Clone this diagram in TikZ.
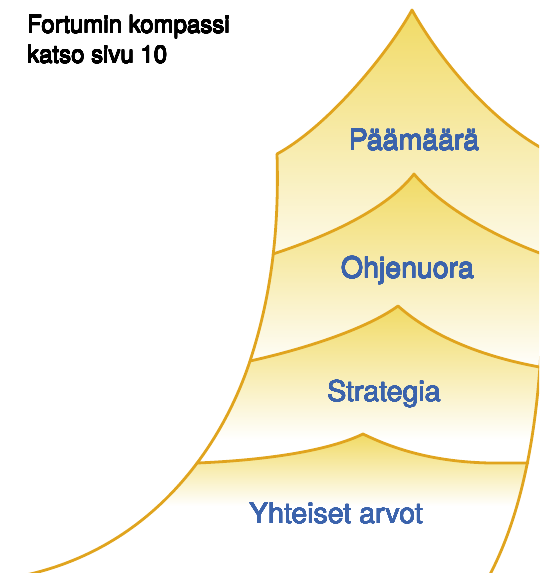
\documentclass[tikz,border=0pt]{standalone}
\usepackage{fontspec}
\setmainfont{TeX Gyre Heros}
\usepackage{contour}
\contourlength{0.2pt}
\contournumber{24}
\usetikzlibrary{positioning}
\definecolor{roofgold}{RGB}{236,206,48}
\definecolor{roofline}{RGB}{224,164,30}
\definecolor{tierblue}{RGB}{59,99,172}
\newcommand\leftrim{(277,154) .. controls (280,250) and (265,315) .. (250,361)
    .. controls (225,437) and (160,545) .. (26,575)}
\newcommand\rightrim{(541,350) .. controls (536,440) and (520,520) .. (487,580)}
\newcommand\roofA{(277,154) .. controls (330,125) and (390,50) .. (412,10)
    .. controls (440,60) and (490,120) .. (545,150)}
\newcommand\roofB{(273,254) .. controls (340,232) and (390,205) .. (414,174)
    .. controls (440,205) and (490,235) .. (545,255)}
\newcommand\roofC{(250,361) .. controls (300,350) and (365,330) .. (398,306)
    .. controls (425,330) and (470,355) .. (545,368)}
\newcommand\roofD{(197,463) .. controls (270,460) and (330,450) .. (363,434)
    .. controls (400,452) and (440,462) .. (490,463) -- (528,463)}
\newcommand\bodyclip{\clip \leftrim -- (20,590) -- (487,590) -- (487,580)
    .. controls (520,520) and (536,440) .. (541,350) -- (545,150)
    .. controls (490,120) and (440,60) .. (412,10)
    .. controls (390,50) and (330,125) .. (277,154) -- cycle;}
\newcommand\tiertext[1]{\contour{tierblue}{#1}}
\newcommand\notetext[1]{\contour{black}{#1}}

\begin{document}
\begin{tikzpicture}[x=1pt,y=-1pt,
            outline/.style = {draw=roofline,line width=2.8pt,
                line cap=round,line join=round},
            tiershade/.style = {top color=roofgold,bottom color=white},
            tierlabel/.style = {anchor=base,inner sep=0pt,text=tierblue,
                font=\fontsize{28.5}{34}\selectfont},
            note/.style = {anchor=base west,inner sep=0pt,
                font=\fontsize{24}{30}\selectfont}]
            \useasboundingbox (0,0) rectangle (539,573);
            \clip (0,0) rectangle (539,573);
            % tier fills, top to bottom
            \begin{scope}
                \bodyclip
                \clip \roofA -- (600,150) -- (600,620) -- (-50,620) -- (-50,154) -- cycle;
                \shade[tiershade] (0,-85) rectangle (539,295);
            \end{scope}
            \begin{scope}
                \bodyclip
                \clip \roofB -- (600,255) -- (600,620) -- (-50,620) -- (-50,254) -- cycle;
                \shade[tiershade] (0,108) rectangle (539,371);
            \end{scope}
            \begin{scope}
                \bodyclip
                \clip \roofC -- (600,368) -- (600,620) -- (-50,620) -- (-50,361) -- cycle;
                \shade[tiershade] (0,261) rectangle (539,440);
            \end{scope}
            \begin{scope}
                \bodyclip
                \clip \roofD -- (600,463) -- (600,620) -- (-50,620) -- (-50,463) -- cycle;
                \shade[tiershade] (0,410) rectangle (539,506);
            \end{scope}
            % outlines
            \draw[outline] \leftrim;
            \draw[outline] \rightrim;
            \draw[outline] \roofA;
            \draw[outline] \roofB;
            \draw[outline] \roofC;
            \draw[outline] \roofD;
            % labels
            \node[tierlabel] (goal) at (414,150) {\tiertext{Päämäärä}};
            \node[tierlabel] (guide) at (407.5,278) {\tiertext{Ohjenuora}};
            \node[tierlabel] (strategy) at (384,401.7) {\tiertext{Strategia}};
            \node[tierlabel] (values) at (336,523.3) {\tiertext{Yhteiset arvot}};
            \node[note] (compass) at (27,33) {\notetext{Fortumin kompassi}};
            \node[note] (page) at (27,63) {\notetext{katso sivu 10}};
        \end{tikzpicture}
\end{document}
